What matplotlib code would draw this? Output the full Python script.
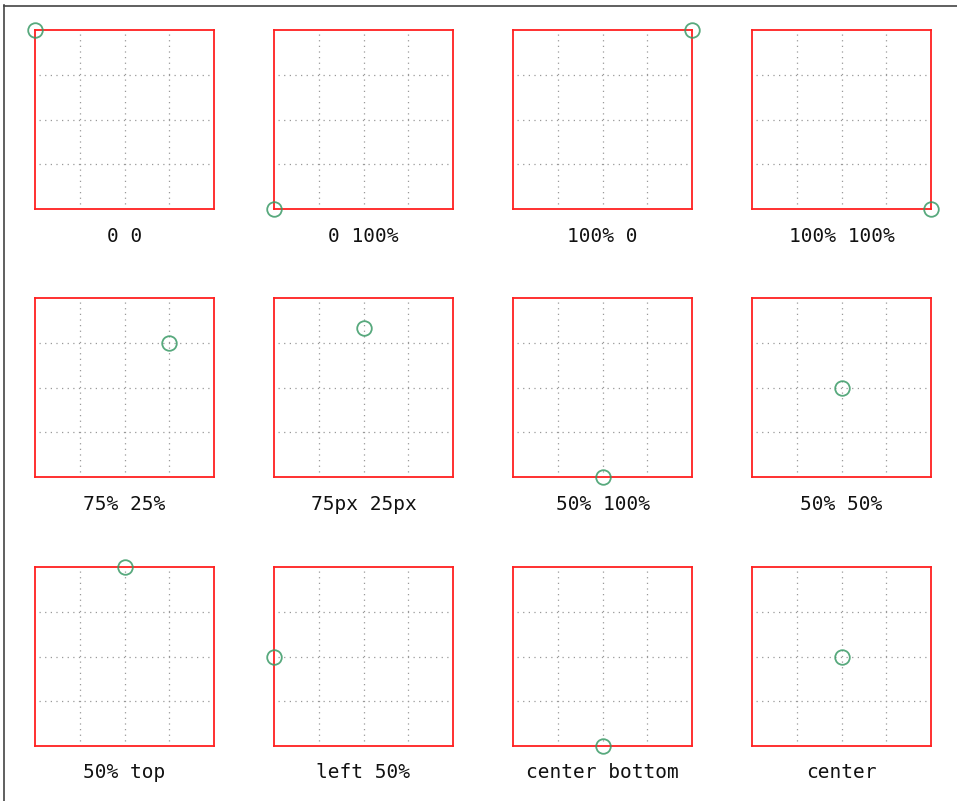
import numpy as np
import matplotlib
matplotlib.use("Agg")
import matplotlib.pyplot as plt
from matplotlib.lines import Line2D

# ================================
# DATA: position labels and point coordinates (box is 150 units)
# ================================
labels = ["0 0", "0 100%", "100% 0", "100% 100%",
          "75% 25%", "75px 25px", "50% 100%", "50% 50%",
          "50% top", "left 50%", "center bottom", "center"]
pos_x = [0, 0, 150, 150, 112.5, 75, 75, 75, 75, 0, 75, 75]
pos_y = [0, 150, 0, 150, 37.5, 25, 150, 75, 0, 75, 150, 75]
grid_at = [37.5, 75, 112.5]
BOX = 150

# ================================
# LAYOUT (pixels)
# ================================
W, H = 957, 801
fig = plt.figure(figsize=(W / 100, H / 100), dpi=100)

col_left = [35, 274, 513, 752]
row_top = [30, 298, 567]
size = 179

# page frame (left + top edges)
fig.add_artist(Line2D([3.5 / W, 3.5 / W], [0, 1 - 5 / H], color="#444444", lw=1.2))
fig.add_artist(Line2D([3.5 / W, 1], [1 - 5.5 / H, 1 - 5.5 / H], color="#444444", lw=1.2))

for i, lab in enumerate(labels):
    r, c = divmod(i, 4)
    x0 = col_left[c] / W
    y0 = 1 - (row_top[r] + size) / H
    ax = fig.add_axes([x0, y0, size / W, size / H])
    ax.set_xlim(0, BOX)
    ax.set_ylim(BOX, 0)
    ax.set_xticks([])
    ax.set_yticks([])
    for s in ax.spines.values():
        s.set_color("#ff2020")
        s.set_linewidth(1.3)

    # dotted grid, slightly inset from the border
    for g in grid_at:
        ax.plot([g, g], [3, BOX - 3], color="#999999", lw=0.9, ls=(0, (1, 3.5)))
        ax.plot([3, BOX - 3], [g, g], color="#999999", lw=0.9, ls=(0, (1, 3.5)))

    ax.plot(pos_x[i], pos_y[i], marker="o", ms=10.5, mfc="none",
            mec="#3a9a66", mew=1.3, alpha=0.85, clip_on=False, zorder=5)

    fig.text(x0 + size / W / 2, 1 - (row_top[r] + size + 27) / H, lab,
             ha="center", va="center", family="DejaVu Sans Mono",
             fontsize=14, color="#111111")

fig.savefig("out.png", dpi=100)
